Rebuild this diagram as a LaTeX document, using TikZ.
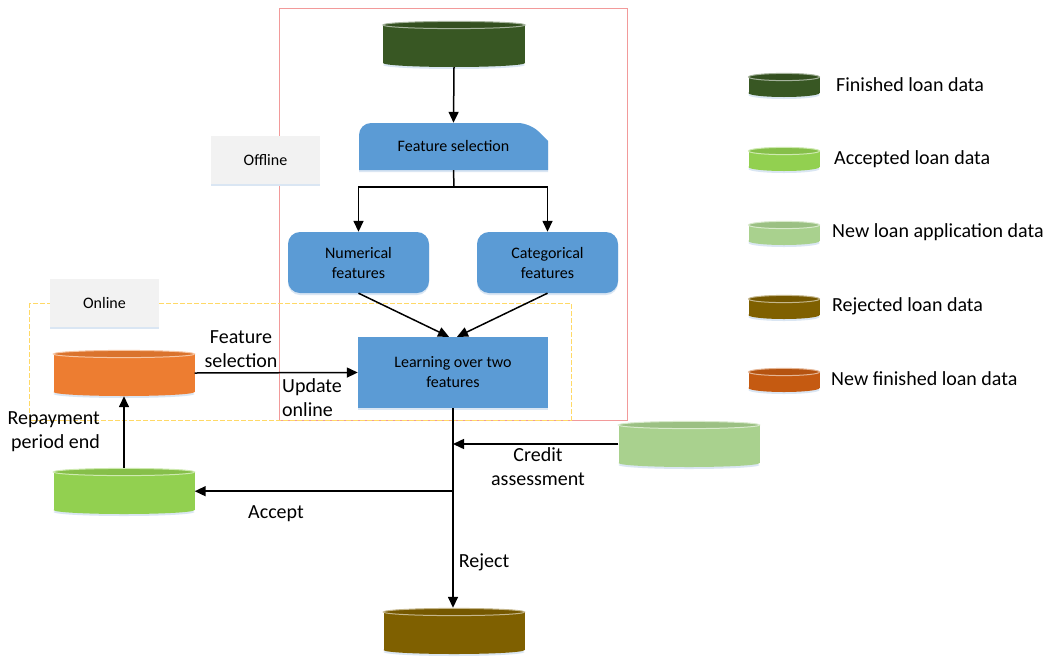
\documentclass[tikz,border=0pt]{standalone}
\usepackage{fontspec}
\setmainfont{Carlito}
\usetikzlibrary{arrows.meta,calc}
\definecolor{cDarkGreen}{HTML}{385723}
\definecolor{cBlue}{HTML}{5B9BD5}
\definecolor{cOrange}{HTML}{ED7D31}
\definecolor{cOrangeDk}{HTML}{C55A11}
\definecolor{cAcc}{HTML}{92D050}
\definecolor{cApp}{HTML}{A9D18E}
\definecolor{cRej}{HTML}{7F6000}
\definecolor{cShadow}{HTML}{DAE6F3}
\definecolor{cLabelBox}{HTML}{F2F2F2}
\definecolor{cRedFrame}{HTML}{F29A9A}
\definecolor{cGoldFrame}{HTML}{FFD966}
\newcommand{\dbcyl}[6]{%
  \pgfmathsetmacro\cylX{#2}%
  \pgfmathsetmacro\cylT{#3}%
  \pgfmathsetmacro\cylHW{#4/2}%
  \pgfmathsetmacro\cylB{#3+#5}%
  \fill[cShadow] (\cylX,\cylB-2) ellipse[x radius=\cylHW, y radius=4];
  \fill[#6] (\cylX-\cylHW,\cylT+4) rectangle (\cylX+\cylHW,\cylB-4);
  \fill[#6] (\cylX,\cylB-4) ellipse[x radius=\cylHW, y radius=4];
  \filldraw[fill=#6!92!black, draw=#6!45!white, line width=1pt] (\cylX,\cylT+4) ellipse[x radius=\cylHW, y radius=3.6];
  \node[inner sep=0pt, minimum width=#4, minimum height=#5] (#1) at (\cylX,\cylT+#5/2) {};
}
\tikzset{
  arr/.style={-{Triangle[length=11pt,width=10pt]}, line width=1.5pt},
  plain/.style={line width=1.5pt},
  boxtext/.style={font=\fontsize{16}{20}\selectfont, align=center, text=black},
  lbl/.style={font=\fontsize{20}{24}\selectfont, align=center, text=black, inner sep=0pt},
  bluebox/.style={fill=cBlue, draw=none, inner sep=0pt},
  labelbox/.style={fill=cLabelBox, draw=none, inner sep=0pt, font=\fontsize{16}{20}\selectfont},
}
\begin{document}
\begin{tikzpicture}[x=1pt,y=-1pt]
\useasboundingbox (0,0) rectangle (1048,656);
\fill[white] (0,0) rectangle (1048,656);

% frames
\draw[cRedFrame, line width=0.9pt] (279,8) rectangle (627,420);
\draw[cGoldFrame, line width=1pt, dash pattern=on 5pt off 2pt] (29,303) rectangle (571,420);

% label boxes
\fill[cShadow] (211,138) rectangle (320,186);
\node[labelbox, minimum width=109, minimum height=48] (offline) at (265.5,160) {Offline};
\fill[cShadow] (50,281) rectangle (159,329);
\node[labelbox, minimum width=109, minimum height=48] (online) at (104.5,303) {Online};

% cylinders
\dbcyl{fin}{454}{21}{142}{46}{cDarkGreen}
\dbcyl{newfin}{124}{350}{141}{46}{cOrange}
\dbcyl{acc}{124}{468}{141}{46}{cAcc}
\dbcyl{app}{689}{421}{141}{46}{cApp}
\dbcyl{rej}{454}{608}{141}{46}{cRej}

% legend cylinders
\dbcyl{lg1}{784}{73}{71}{24}{cDarkGreen}
\dbcyl{lg2}{784}{147}{71}{24}{cAcc}
\dbcyl{lg3}{784}{221}{71}{24}{cApp}
\dbcyl{lg4}{784}{295}{71}{24}{cRej}
\dbcyl{lg5}{784}{368}{71}{24}{cOrangeDk}

% legend labels
\node[lbl, anchor=west] (lt1) at (836,85) {Finished loan data};
\node[lbl, anchor=west] (lt2) at (834,159) {Accepted loan data};
\node[lbl, anchor=west] (lt3) at (832,232) {New loan application data};
\node[lbl, anchor=west] (lt4) at (832,306) {Rejected loan data};
\node[lbl, anchor=west] (lt5) at (831,379) {New finished loan data};

% feature selection shape
\fill[cShadow, rounded corners=12pt] (359,172) -- (359,125) -- (530,125) [sharp corners] -- (548,143) -- (548,172) -- cycle;
\fill[cBlue, rounded corners=12pt] (359,170) -- (359,123) -- (530,123) [sharp corners] -- (548,141) -- (548,170) -- cycle;
\node[boxtext, inner sep=0pt, minimum width=189, minimum height=47] (fs) at (453.5,146.5) {Feature selection};

% numerical / categorical
\fill[cShadow, rounded corners=12pt] (288,234) rectangle (429,295);
\node[bluebox, rounded corners=12pt, minimum width=141, minimum height=61, boxtext] (num) at (358.5,262.5) {Numerical\\features};
\fill[cShadow, rounded corners=12pt] (477,234) rectangle (618,295);
\node[bluebox, rounded corners=12pt, minimum width=141, minimum height=61, boxtext] (cat) at (547.5,262.5) {Categorical\\features};

% learning
\fill[cShadow] (358,339) rectangle (548,410);
\node[bluebox, minimum width=190, minimum height=71, boxtext] (learn) at (453,372.5) {Learning over two\\features};

% connectors
\draw[arr] (fin.south) -- (fs.north);
\coordinate (sp) at (454,187);
\draw[plain] (fs.south) -- (sp);
\draw[arr] (sp) -| (num.north);
\draw[arr] (sp) -| (cat.north);
\draw[arr] (num.south) -- ([xshift=-4pt]learn.north);
\draw[arr] (cat.south) -- ([xshift=4pt]learn.north);
\draw[arr] (newfin.east) -- (learn.west);
\draw[arr] (acc.north) -- (newfin.south);
\draw[arr] (learn.south) -- (learn.south |- rej.north);
\coordinate (ca) at (learn.south |- app.west);
\draw[arr] (app.west) -- (ca);
\coordinate (ac) at ($(learn.south)+(0,83)$);
\draw[arr] (ac) -- (ac -| acc.east);

% connector labels
\node[lbl] (l1) at (241,349.5) {Feature\\selection};
\node[lbl, align=left, anchor=west] (l2) at (282,398) {Update\\online};
\node[lbl, align=right, anchor=east] (l3) at (100,432) {Repayment\\period end};
\node[lbl] (l4) at (538,467) {Credit\\assessment};
\node[lbl] (l5) at (276,514) {Accept};
\node[lbl] (l6) at (484,562) {Reject};
\end{tikzpicture}
\end{document}
